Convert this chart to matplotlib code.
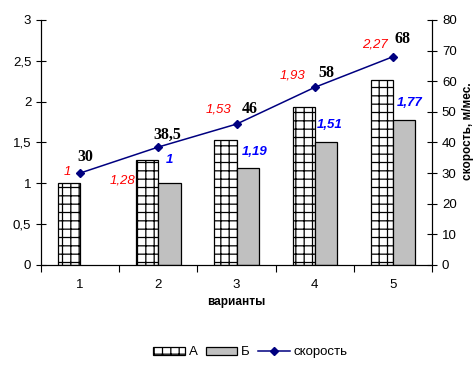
import numpy as np
import matplotlib

matplotlib.use("Agg")
import matplotlib.pyplot as plt
from matplotlib.ticker import FuncFormatter, FixedLocator

variants = [1, 2, 3, 4, 5]
a_vals = [1.00, 1.28, 1.53, 1.93, 2.27]
b_vals = [None, 1.00, 1.19, 1.51, 1.77]   # no Б bar for variant 1
speed = [30, 38.5, 46, 58, 68]

a_labels = ["1", "1,28", "1,53", "1,93", "2,27"]
b_labels = [None, "1", "1,19", "1,51", "1,77"]
speed_labels = ["30", "38,5", "46", "58", "68"]

# label nudges in pixels (dx, dy)
A_OFF = [(-2, 11), (-25, -20), (-7, 30), (-11, 32), (-7, 35)]
B_OFF = [None, (0, 23), (7, 16), (4, 17), (5, 17)]
S_OFF = [(5, 16), (9, 12), (13, 15), (12, 14), (9, 18)]

plt.rcParams["font.family"] = ["Liberation Sans", "DejaVu Sans"]
plt.rcParams["hatch.linewidth"] = 0.9

fig = plt.figure(figsize=(4.77, 3.69), dpi=100)
ax = fig.add_axes([0.086, 0.282, 0.82, 0.664])
ax2 = ax.twinx()

x = np.array(variants, float)
w = 0.285
ax.bar(x - w / 2, a_vals, w, color="white", edgecolor="black", lw=0.9,
       hatch="++", label="А", zorder=2)
bx = [xi for xi, b in zip(x, b_vals) if b is not None]
bv = [b for b in b_vals if b is not None]
ax.bar(np.array(bx) + w / 2, bv, w, color="#c0c0c0", edgecolor="black", lw=0.9,
       label="Б", zorder=2)

ax2.plot(x, speed, "-D", color="#000080", lw=1.1, ms=4.5, label="скорость")

for xi, v, t, off in zip(x, a_vals, a_labels, A_OFF):
    ax.annotate(t, (xi - w / 2, v), xytext=off, textcoords="offset pixels",
                ha="center", va="center", color="#ff0000", style="italic",
                fontsize=9.5)
for xi, v, t, off in zip(x, b_vals, b_labels, B_OFF):
    if v is None:
        continue
    ax.annotate(t, (xi + w / 2, v), xytext=off, textcoords="offset pixels",
                ha="center", va="center", color="#0000ff", style="italic",
                weight="bold", fontsize=9.5)
for xi, v, t, off in zip(x, speed, speed_labels, S_OFF):
    ax2.annotate(t, (xi, v), xytext=off, textcoords="offset pixels",
                 ha="center", va="center", color="black", weight="bold",
                 family="Liberation Serif", fontsize=11.5)

ax.set_xlim(0.5, 5.5)
ax.set_ylim(0, 3)
ax2.set_ylim(0, 80)
ax.set_yticks(np.arange(0, 3.01, 0.5))
ax2.set_yticks(np.arange(0, 81, 10))
ax.yaxis.set_major_formatter(FuncFormatter(lambda v, p: f"{v:g}".replace(".", ",")))

ax.set_xticks(variants)
ax.set_xticklabels([str(v) for v in variants])
ax.xaxis.set_minor_locator(FixedLocator(np.arange(0.5, 5.6, 1)))
ax.tick_params(axis="x", which="major", length=0, labelsize=9.5, pad=10)
ax.tick_params(axis="x", which="minor", length=5, direction="out", width=0.8)
ax.tick_params(axis="y", direction="inout", length=7, width=0.8, labelsize=9.5)
ax2.tick_params(axis="y", direction="inout", length=7, width=0.8, labelsize=9.5)

for a in (ax, ax2):
    a.spines["top"].set_visible(False)
    for s in ("left", "right", "bottom"):
        a.spines[s].set_linewidth(0.8)

ax.set_xlabel("варианты", fontsize=8.5, weight="bold", labelpad=4)
ax2.set_ylabel("скорость, м/мес.", fontsize=8.5, weight="bold")
ax2.yaxis.set_label_coords(1.077, 0.545)

h1, l1 = ax.get_legend_handles_labels()
h2, l2 = ax2.get_legend_handles_labels()
fig.legend(h1 + h2, l1 + l2, loc="center", bbox_to_anchor=(0.525, 0.045),
           ncol=3, frameon=False, fontsize=9.5, handlelength=2.4,
           handleheight=0.6, columnspacing=0.6, handletextpad=0.3)

fig.savefig("out.png", dpi=100)
